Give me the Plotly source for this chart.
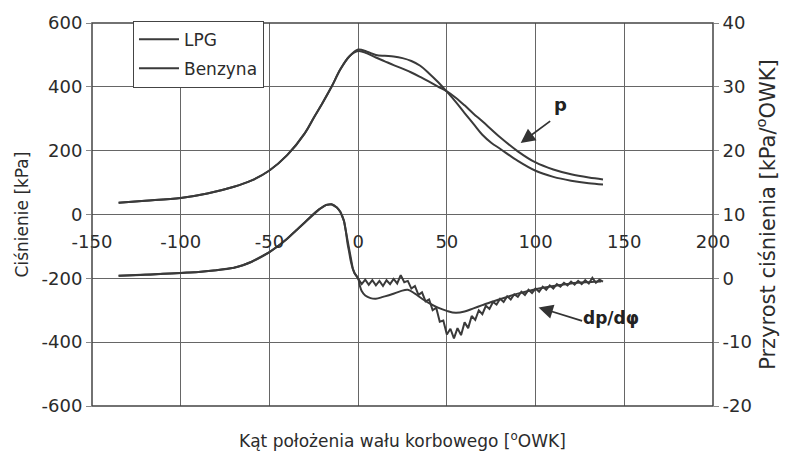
import plotly.graph_objects as go

# ---------------- data ----------------
# Pressure p [kPa] (left axis)
p_shared_x = [-135, -120, -100, -85, -70, -60, -50, -40, -30, -25, -20, -15, -10, -5]
p_shared_y = [37, 43, 52, 66, 87, 107, 138, 186, 255, 303, 350, 400, 455, 495]

p_lpg_x = [0, 5, 10, 15, 20, 25, 30, 35, 40, 45, 50, 55, 60, 65, 70, 75, 80, 90, 100, 110, 120, 130, 138]
p_lpg_y = [517, 510, 500, 497, 495, 490, 481, 466, 442, 415, 385, 353, 318, 284, 250, 225, 206, 168, 137, 118, 106, 98, 94]

p_benz_x = [0, 5, 10, 15, 20, 25, 30, 35, 40, 45, 50, 55, 60, 65, 70, 80, 90, 100, 110, 120, 130, 138]
p_benz_y = [512, 505, 492, 480, 468, 457, 445, 431, 416, 401, 386, 366, 342, 316, 292, 242, 198, 163, 141, 126, 116, 110]

# Pressure rise dp/dphi [kPa/OWK] (right axis)
dp_shared_x = [-135, -120, -110, -100, -90, -80, -70, -65, -60, -55, -50, -44, -40, -35, -30, -26, -22,
               -18, -15, -12, -10, -8, -7, -6, -5, -4, -3, -2]
dp_shared_y = [0.4, 0.55, 0.7, 0.85, 1.0, 1.25, 1.65, 2.05, 2.6, 3.3, 4.1, 5.3, 6.2, 7.5, 8.8, 9.9, 10.8,
               11.5, 11.6, 11.1, 10.4, 9.0, 7.5, 5.5, 4.0, 2.5, 1.5, 0.8]

dp_lpg_x = list(range(0, 139, 2))
dp_lpg_y = [0.0, -0.9, -0.2, -1.0, -0.3, -1.1, -0.4, -1.2, -0.3, -0.9,
            -0.1, -0.8, 0.5, -0.6, -0.4, -1.6, -1.2, -2.6, -2.2, -3.6,
            -3.3, -5.0, -4.6, -6.8, -6.6, -8.8, -7.9, -9.4, -7.8, -8.9,
            -6.9, -7.8, -5.9, -6.5, -5.0, -5.6, -4.3, -4.8, -3.7, -4.1,
            -3.2, -3.7, -2.8, -3.3, -2.5, -2.9, -2.1, -2.6, -1.8, -2.3,
            -1.6, -2.1, -1.3, -1.8, -1.1, -1.6, -0.9, -1.3, -0.7, -1.1,
            -0.5, -1.0, -0.4, -0.9, -0.3, -0.8, 0.1, -0.7, -0.2, -0.5]

dp_benz_x = [0, 1, 2, 4, 7, 10, 14, 19, 24, 28, 32, 36, 40, 45, 50, 55, 60, 65, 70, 75, 83, 90, 100, 110, 120, 130, 137]
dp_benz_y = [0.0, -1.2, -2.0, -2.7, -3.1, -3.2, -2.9, -2.5, -2.0, -1.8, -2.4, -3.2, -3.9, -4.6, -5.1, -5.4, -5.2, -4.7, -4.2, -3.7, -3.0, -2.4, -1.7, -1.2, -0.8, -0.6, -0.5]

series_names = ["LPG", "Benzyna"]
x_ticks = [-150, -100, -50, 0, 50, 100, 150, 200]
y_ticks = [-600, -400, -200, 0, 200, 400, 600]
y2_ticks = [-20, -10, 0, 10, 20, 30, 40]

# ---------------- figure ----------------
LINE = "#3a3a3a"
GRID = "#666666"
TXT = "#2b2b2b"
FONT = "DejaVu Sans"

fig = go.Figure()
fig.add_trace(go.Scatter(x=p_shared_x + p_lpg_x, y=p_shared_y + p_lpg_y, name=series_names[0],
                         legendgroup="a", mode="lines",
                         line=dict(color=LINE, width=2, shape="spline", smoothing=1.0)))
fig.add_trace(go.Scatter(x=p_shared_x + p_benz_x, y=p_shared_y + p_benz_y, name=series_names[1],
                         legendgroup="b", mode="lines",
                         line=dict(color=LINE, width=2, shape="spline", smoothing=1.0)))
fig.add_trace(go.Scatter(x=dp_shared_x + dp_lpg_x, y=dp_shared_y + dp_lpg_y, name=series_names[0],
                         legendgroup="a", mode="lines", yaxis="y2", showlegend=False,
                         line=dict(color=LINE, width=2)))
fig.add_trace(go.Scatter(x=dp_shared_x + dp_benz_x, y=dp_shared_y + dp_benz_y, name=series_names[1],
                         legendgroup="b", mode="lines", yaxis="y2", showlegend=False,
                         line=dict(color=LINE, width=2, shape="spline", smoothing=1.0)))

fig.update_layout(
    width=796, height=454,
    margin=dict(l=92, r=83, t=15, b=48),
    paper_bgcolor="white", plot_bgcolor="white",
    font=dict(family=FONT, size=18, color=TXT),
    showlegend=True,
    legend=dict(x=0.066, y=1.006, xanchor="left", yanchor="top",
                bgcolor="white", bordercolor="#444", borderwidth=1,
                font=dict(size=17, color=TXT), tracegroupgap=4,
                itemwidth=40),
    xaxis=dict(range=[-150, 200], tickvals=x_ticks, ticktext=[str(v) for v in x_ticks],
               showgrid=True, gridcolor=GRID, gridwidth=1, zeroline=False,
               showline=False, ticks="", anchor="free", position=0.5,
               ticklabelstandoff=14, tickfont=dict(size=18, color=TXT)),
    yaxis=dict(range=[-600, 600], tickvals=y_ticks, ticktext=[str(v) for v in y_ticks],
               showgrid=True, gridcolor=GRID,
               gridwidth=1, zeroline=False, showline=False, ticks="outside",
               ticklen=5, tickcolor="#888", tickfont=dict(size=18, color=TXT),
               title=dict(text="Ciśnienie [kPa]", font=dict(size=17, color=TXT), standoff=8)),
    yaxis2=dict(range=[-20, 40], tickvals=y2_ticks, ticktext=[str(v) for v in y2_ticks],
                overlaying="y", side="right",
                showgrid=False, zeroline=False, showline=False, ticks="outside",
                ticklen=5, tickcolor="#888", tickfont=dict(size=18, color=TXT),
                title=dict(text="Przyrost ciśnienia [kPa/<sup>o</sup>OWK]",
                           font=dict(size=21, color=TXT), standoff=8)),
)

# plot frame
fig.add_shape(type="rect", xref="paper", yref="paper", x0=0, x1=1, y0=0, y1=1,
              line=dict(color="#444", width=1.5), layer="above")

# x axis title at bottom
fig.add_annotation(text="Kąt położenia wału korbowego [<sup>o</sup>OWK]", xref="paper", yref="paper",
                   x=0.5, y=-0.088, xanchor="center", yanchor="middle", showarrow=False,
                   font=dict(size=17, color=TXT))

# curve labels with arrows
fig.add_annotation(x=91.6, y=224, ax=31, ay=-23, text="", showarrow=True,
                   arrowhead=2, arrowsize=1.6, arrowwidth=1.8, arrowcolor="#333")
fig.add_annotation(x=114, y=345, text="<b>p</b>", showarrow=False,
                   font=dict(size=18, color="#222"))
fig.add_annotation(x=101.7, y=-291, ax=45, ay=14, text="", showarrow=True,
                   arrowhead=2, arrowsize=1.6, arrowwidth=1.8, arrowcolor="#333")
fig.add_annotation(x=142.7, y=-325, text="<b>dp/dφ</b>", showarrow=False,
                   font=dict(size=17, color="#222"))

fig.write_html("out.html")
